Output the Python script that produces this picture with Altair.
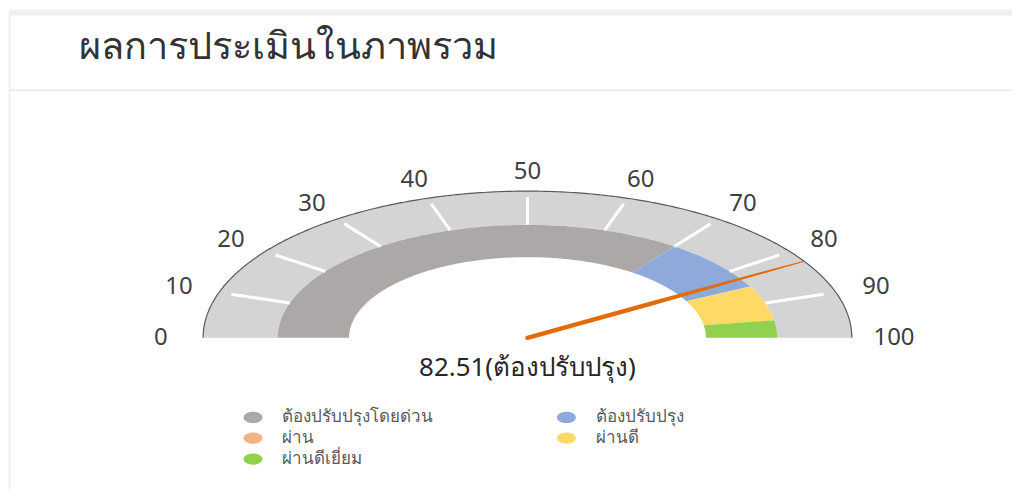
import altair as alt
import numpy as np
import pandas as pd

# ---------------- data ----------------
title_text = "ผลการประเมินในภาพรวม"
score = 82.51
score_label = "82.51(ต้องปรับปรุง)"

categories = ["ต้องปรับปรุงโดยด่วน", "ต้องปรับปรุง", "ผ่าน", "ผ่านดี", "ผ่านดีเยี่ยม"]
band_start = [0, 70, 85, 85, 95]
band_end = [70, 85, 85, 95, 100]
band_colors = ["#aca8a8", "#8eaadb", "#f4b183", "#ffd966", "#92d050"]
# legend fills column by column: this order gives rows
# [urgent, improve] / [pass, good] / [excellent]
legend_order = [0, 2, 4, 1, 3]

tick_values = [0, 10, 20, 30, 40, 50, 60, 70, 80, 90, 100]
tick_labels = ["0", "10", "20", "30", "40", "50", "60", "70", "80", "90", "100"]
minor_tick_values = [10, 20, 30, 40, 50, 60, 70, 80, 90]

gauge_min, gauge_max = 0, 100

# ---------------- geometry (style) ----------------
R_OUT, R_MID, R_IN = 1.0, 0.77, 0.55
R_TICK_OUT, R_TICK_IN = 0.96, 0.77
R_LABEL = 1.13
W, H = 1005, 482
CX, CY = 519.5, 330.0      # centre in plot px
SX, SY = 325.0, 147.0      # px per unit radius
x_dom = [-CX / SX, (W - CX) / SX]
y_dom = [(CY - H) / SY, CY / SY]


def ang(v):
    return np.pi * (1 - (np.asarray(v, dtype=float) - gauge_min) / (gauge_max - gauge_min))


def ring(a, b, r_in, r_out):
    n = max(2, int(abs(b - a) * 3) + 2)
    vs = np.linspace(a, b, n)
    outer = [(r_out * np.cos(ang(v)), r_out * np.sin(ang(v))) for v in vs]
    inner = [(r_in * np.cos(ang(v)), r_in * np.sin(ang(v))) for v in vs[::-1]]
    return outer + inner


rows = []
for cat, a, b in zip(categories, band_start, band_end):
    for i, (x, y) in enumerate(ring(a, b, R_IN, R_MID)):
        rows.append({"cat": cat, "ord": i, "X": x, "Y": y})
seg_df = pd.DataFrame(rows)

bg_df = pd.DataFrame([{"ord": i, "X": x, "Y": y}
                      for i, (x, y) in enumerate(ring(gauge_min, gauge_max, R_MID, R_OUT))])

arc_vs = np.linspace(gauge_min, gauge_max, 301)
outline_df = pd.DataFrame({"ord": range(len(arc_vs)),
                           "X": R_OUT * np.cos(ang(arc_vs)),
                           "Y": R_OUT * np.sin(ang(arc_vs))})

tk = np.array(minor_tick_values)
ticks_df = pd.DataFrame({"X": R_TICK_OUT * np.cos(ang(tk)), "Y": R_TICK_OUT * np.sin(ang(tk)),
                         "X2": R_TICK_IN * np.cos(ang(tk)), "Y2": R_TICK_IN * np.sin(ang(tk))})

tv = np.array(tick_values)
labels_df = pd.DataFrame({"X": R_LABEL * np.cos(ang(tv)), "Y": R_LABEL * np.sin(ang(tv)),
                          "t": tick_labels})

needle_r = [0.0, 0.45, 1.0]
needle_w = [4.5, 4.5, 1.0]
needle_df = pd.DataFrame({"ord": range(3),
                          "X": [r * np.cos(ang(score)) for r in needle_r],
                          "Y": [r * np.sin(ang(score)) for r in needle_r],
                          "w": needle_w})

value_df = pd.DataFrame({"X": [0.0], "Y": [-0.205], "t": [score_label]})

xs = alt.Scale(domain=x_dom, nice=False, zero=False)
ys = alt.Scale(domain=y_dom, nice=False, zero=False)
X = alt.X("X:Q", scale=xs, axis=None)
Y = alt.Y("Y:Q", scale=ys, axis=None)

FONT = "Noto Sans"

# decorations of the card
strip = alt.Chart(pd.DataFrame({"k": [0]})).mark_rect(color="#edf0f4").encode(
    x=alt.value(0), x2=alt.value(W), y=alt.value(1), y2=alt.value(7))
sep = alt.Chart(pd.DataFrame({"k": [0]})).mark_rule(color="#ececec", strokeWidth=2).encode(
    x=alt.value(0), x2=alt.value(W), y=alt.value(82))
leftb = alt.Chart(pd.DataFrame({"k": [0]})).mark_rule(color="#ececec", strokeWidth=1.5).encode(
    x=alt.value(0.5), y=alt.value(7), y2=alt.value(H))
title = alt.Chart(pd.DataFrame({"t": [title_text]})).mark_text(
    align="left", baseline="middle", font=FONT, fontSize=38, color="#333333").encode(
    x=alt.value(70), y=alt.value(40), text="t:N")

bg = alt.Chart(bg_df).mark_line(filled=True, interpolate="linear-closed", color="#d4d4d4").encode(
    x=X, y=Y, order="ord:Q")

leg_domain = [categories[i] for i in legend_order]
leg_range = [band_colors[i] for i in legend_order]

segs = alt.Chart(seg_df).mark_line(filled=True, interpolate="linear-closed").encode(
    x=X, y=Y, order="ord:Q",
    color=alt.Color("cat:N", scale=alt.Scale(domain=leg_domain, range=leg_range),
                    legend=alt.Legend(title=None, orient="none", legendX=235, legendY=400,
                                      columns=2, columnPadding=124, rowPadding=3,
                                      symbolType="M-1,0A1,0.6,0,1,1,1,0A1,0.6,0,1,1,-1,0Z",
                                      symbolSize=361, symbolStrokeWidth=0,
                                      labelFont=FONT, labelFontSize=17, labelColor="#595959",
                                      labelOffset=20, labelLimit=400)))

ticks = alt.Chart(ticks_df).mark_rule(color="white", strokeWidth=3).encode(
    x=X, y=Y, x2="X2:Q", y2="Y2:Q")

outline = alt.Chart(outline_df).mark_line(color="#5a5a5a", strokeWidth=1.2).encode(
    x=X, y=Y, order="ord:Q")

labels = alt.Chart(labels_df).mark_text(font=FONT, fontSize=24, color="#404040",
                                        align="center", baseline="middle").encode(
    x=X, y=Y, text="t:N")

needle = alt.Chart(needle_df).mark_trail(color="#e36c0a").encode(
    x=X, y=Y, order="ord:Q", size=alt.Size("w:Q", scale=None, legend=None))

value_txt = alt.Chart(value_df).mark_text(font=FONT, fontSize=26, color="#262626",
                                          align="center", baseline="middle").encode(
    x=X, y=Y, text="t:N")

chart = alt.layer(strip, sep, leftb, title, bg, segs, ticks, outline, labels, needle, value_txt).properties(
    width=W, height=H, padding=0, background="white"
).configure_view(stroke=None)

chart.save("out.html", embed_options={"renderer": "svg", "actions": False})
